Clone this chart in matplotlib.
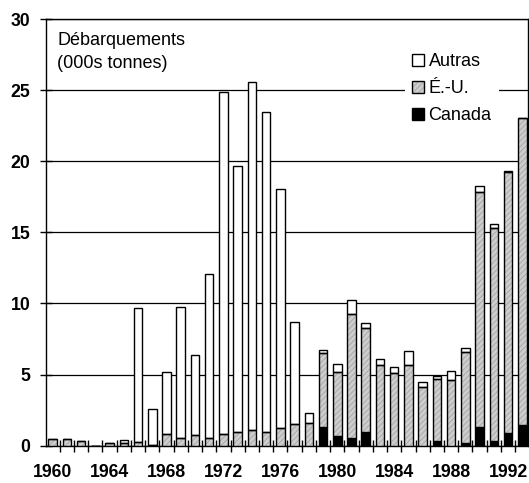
import matplotlib
matplotlib.use("Agg")
import matplotlib.pyplot as plt
from matplotlib.patches import Patch
import numpy as np

plt.rcParams['font.family'] = ['Liberation Sans', 'DejaVu Sans']
plt.rcParams['hatch.linewidth'] = 0.6

years = list(range(1960, 1994))
canada = [0, 0, 0, 0, 0, 0, 0, 0, 0, 0,
          0, 0, 0, 0, 0, 0, 0, 0, 0, 1.34,
          0.68, 0.56, 0.96, 0, 0, 0, 0, 0.33, 0, 0.16,
          1.34, 0.33, 0.89, 1.45]
usa = [0.49, 0.45, 0.35, 0, 0.16, 0.20, 0.26, 0.05, 0.80, 0.56,
       0.75, 0.56, 0.80, 0.94, 1.12, 0.94, 1.24, 1.50, 1.62, 5.15,
       4.48, 8.70, 7.29, 5.65, 5.09, 5.65, 4.10, 4.36, 4.62, 6.43,
       16.47, 15.00, 18.35, 21.56]
autras = [0, 0, 0, 0, 0, 0.17, 9.42, 2.50, 4.36, 9.21,
          5.65, 11.54, 24.04, 18.76, 24.48, 22.52, 16.83, 7.20, 0.65, 0.21,
          0.56, 1.00, 0.40, 0.47, 0.46, 1.01, 0.40, 0.21, 0.63, 0.30,
          0.47, 0.28, 0.09, 0.0]
tick_years = list(range(1960, 1994, 4))

W, H = 529, 483
fig = plt.figure(figsize=(W / 100, H / 100), dpi=100)
ax = fig.add_axes([45.5 / W, 1 - 445.7 / H, (528 - 45.5) / W, (445.7 - 19) / H])

x = np.arange(len(years))
can = np.array(canada)
us = np.array(usa)
au = np.array(autras)
bw = 0.6
gray_face = '#cdcdcd'
hatch_col = '#a4a4a4'

ax.bar(x, can, bw, color='black', edgecolor='black', linewidth=1.0, zorder=3)
ax.bar(x, us, bw, bottom=can, facecolor=gray_face, edgecolor=hatch_col,
       hatch='//////', linewidth=0, zorder=3)
ax.bar(x, us, bw, bottom=can, facecolor='none', edgecolor='black',
       linewidth=1.0, zorder=4)
ax.bar(x, au, bw, bottom=can + us, facecolor='white', edgecolor='black',
       linewidth=1.0, zorder=3)

ax.set_xlim(-0.5, 33.4)
ax.set_ylim(0, 30)
ax.set_yticks([0, 5, 10, 15, 20, 25, 30])
ax.yaxis.grid(True, color='black', linewidth=0.9, zorder=0)
ax.set_axisbelow(True)

ax.set_xticks([years.index(y) for y in tick_years])
ax.set_xticklabels([str(y) for y in tick_years], fontweight='bold', fontsize=12.7)
ax.set_xticks(np.arange(0.5, 33.5, 1.0), minor=True)
ax.tick_params(axis='x', which='major', length=0, pad=13.5)
ax.tick_params(axis='x', which='minor', direction='inout', length=9, width=1)
ax.tick_params(axis='y', direction='inout', length=8, width=1, pad=7,
               labelsize=12.7)
for lab in ax.get_yticklabels():
    lab.set_fontweight('bold')

for s in ax.spines.values():
    s.set_linewidth(1.0)
    s.set_color('black')

ax.text(0.024, 0.9707, 'Débarquements\n(000s tonnes)', transform=ax.transAxes,
        ha='left', va='top', fontsize=13, linespacing=1.5)

h_aut = Patch(facecolor='white', edgecolor='black', linewidth=1.0)
h_us = (Patch(facecolor=gray_face, edgecolor=hatch_col, hatch='//////', linewidth=0),
        Patch(facecolor='none', edgecolor='black', linewidth=1.0))
h_can = Patch(facecolor='black', edgecolor='black', linewidth=1.0)
leg = ax.legend([h_aut, h_us, h_can], ['Autras', 'É.-U.', 'Canada'],
                loc='upper left', bbox_to_anchor=(404.5 / W, 1 - 46 / H),
                bbox_transform=fig.transFigure, fontsize=13,
                handlelength=0.68, handleheight=0.68, handletextpad=0.25,
                labelspacing=0.56, borderpad=0.4, frameon=True,
                fancybox=False, framealpha=1, edgecolor='none',
                facecolor='white', borderaxespad=0)
leg.set_zorder(5)

fig.savefig('out.png', dpi=100)
